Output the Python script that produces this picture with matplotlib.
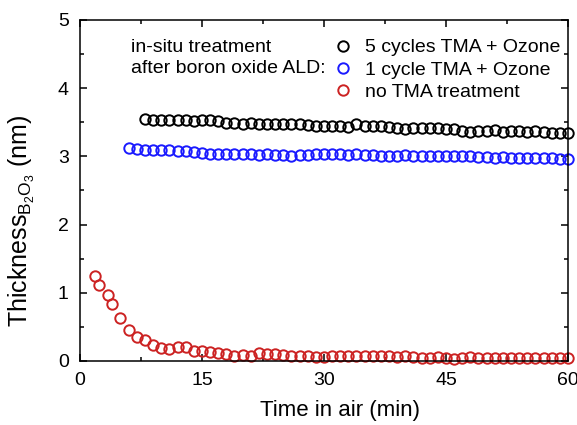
import numpy as np
import matplotlib
matplotlib.use("Agg")
import matplotlib.pyplot as plt
from matplotlib.ticker import MultipleLocator

plt.rcParams['font.family'] = ['Liberation Sans', 'DejaVu Sans']
plt.rcParams['mathtext.fontset'] = 'custom'
plt.rcParams['mathtext.rm'] = 'Liberation Sans'
plt.rcParams['mathtext.it'] = 'Liberation Sans:italic'

# time in air (min) and thickness (nm) for each treatment
t_5cyc = [8, 9, 10, 11, 12, 13, 14, 15, 16, 17,
          18, 19, 20, 21, 22, 23, 24, 25, 26, 27,
          28, 29, 30, 31, 32, 33, 34, 35, 36, 37,
          38, 39, 40, 41, 42, 43, 44, 45, 46, 47,
          48, 49, 50, 51, 52, 53, 54, 55, 56, 57, 58, 59, 60]
d_5cyc = [3.55, 3.54, 3.54, 3.53, 3.53, 3.53, 3.52, 3.53, 3.53, 3.52,
          3.49, 3.49, 3.48, 3.49, 3.48, 3.47, 3.48, 3.48, 3.47, 3.47,
          3.46, 3.45, 3.44, 3.45, 3.44, 3.43, 3.47, 3.45, 3.45, 3.44,
          3.43, 3.41, 3.40, 3.41, 3.42, 3.41, 3.41, 3.40, 3.40, 3.37,
          3.36, 3.37, 3.37, 3.38, 3.36, 3.37, 3.37, 3.36, 3.37, 3.36, 3.35, 3.34, 3.35]

t_1cyc = [6, 7, 8, 9, 10, 11, 12, 13, 14, 15,
          16, 17, 18, 19, 20, 21, 22, 23, 24, 25,
          26, 27, 28, 29, 30, 31, 32, 33, 34, 35,
          36, 37, 38, 39, 40, 41, 42, 43, 44, 45,
          46, 47, 48, 49, 50, 51, 52, 53, 54, 55, 56, 57, 58, 59, 60]
d_1cyc = [3.12, 3.11, 3.10, 3.10, 3.09, 3.09, 3.08, 3.08, 3.06, 3.05,
          3.04, 3.04, 3.03, 3.03, 3.03, 3.03, 3.02, 3.03, 3.02, 3.02,
          3.01, 3.02, 3.02, 3.03, 3.03, 3.03, 3.03, 3.02, 3.03, 3.02,
          3.02, 3.01, 3.01, 3.01, 3.02, 3.01, 3.01, 3.01, 3.00, 3.00,
          3.00, 3.00, 3.00, 2.99, 2.99, 2.98, 2.99, 2.98, 2.98, 2.98, 2.97, 2.97, 2.97, 2.96, 2.96]

t_none = [1.9, 2.4, 3.4, 3.9, 4.9,
          6, 7, 8, 9, 10, 11, 12, 13, 14, 15,
          16, 17, 18, 19, 20, 21, 22, 23, 24, 25,
          26, 27, 28, 29, 30, 31, 32, 33, 34, 35,
          36, 37, 38, 39, 40, 41, 42, 43, 44, 45,
          46, 47, 48, 49, 50, 51, 52, 53, 54, 55, 56, 57, 58, 59, 60]
d_none = [1.24, 1.12, 0.97, 0.83, 0.63,
          0.45, 0.35, 0.31, 0.23, 0.19, 0.17, 0.20, 0.20, 0.15, 0.14,
          0.13, 0.12, 0.10, 0.08, 0.09, 0.08, 0.11, 0.10, 0.10, 0.09,
          0.08, 0.07, 0.07, 0.06, 0.06, 0.07, 0.08, 0.08, 0.08, 0.07,
          0.07, 0.07, 0.07, 0.06, 0.07, 0.06, 0.05, 0.05, 0.06, 0.05,
          0.03, 0.05, 0.06, 0.04, 0.04, 0.05, 0.05, 0.05, 0.05, 0.05, 0.04, 0.05, 0.05, 0.04, 0.05]

fig = plt.figure(figsize=(5.77, 4.25), dpi=100)
ax = fig.add_axes([0.1386, 0.1506, 0.8457, 0.8024])

style = dict(ls='none', marker='o', ms=7.5, mfc='none', mew=1.4, clip_on=False)
ax.plot(t_5cyc, d_5cyc, color='black', label='5 cycles TMA + Ozone', **style)
ax.plot(t_1cyc, d_1cyc, color='#1a1aff', label='1 cycle TMA + Ozone', **style)
ax.plot(t_none, d_none, color='#cc2222', label='no TMA treatment', **style)

ax.set_xlim(0, 60)
ax.set_ylim(0, 5)
ax.xaxis.set_major_locator(MultipleLocator(15))
ax.xaxis.set_minor_locator(MultipleLocator(7.5))
ax.yaxis.set_major_locator(MultipleLocator(1))
ax.yaxis.set_minor_locator(MultipleLocator(0.5))
ax.tick_params(which='both', direction='in', top=True, right=True, labelsize=14, width=1.1, pad=8)
ax.tick_params(which='major', length=5)
ax.tick_params(which='minor', length=3)
for s in ax.spines.values():
    s.set_linewidth(1.1)

ax.set_xlabel('Time in air (min)', fontsize=16)
ax.xaxis.set_label_coords(0.532, -0.115)
ax.set_ylabel(r'Thickness$_{\mathregular{B_2O_3}}$ (nm)', fontsize=18)
ax.yaxis.set_label_coords(-0.088, 0.41)

ax.text(0.104, 0.889, 'in-situ treatment\nafter boron oxide ALD:', transform=ax.transAxes,
        fontsize=14, va='center', ha='left', linespacing=1.3)
ax.legend(loc='upper left', bbox_to_anchor=(0.52, 0.945), frameon=False, fontsize=14,
          handlelength=1.0, handletextpad=0.6, labelspacing=0.25, borderpad=0, borderaxespad=0)

fig.savefig('out.png', dpi=100)
